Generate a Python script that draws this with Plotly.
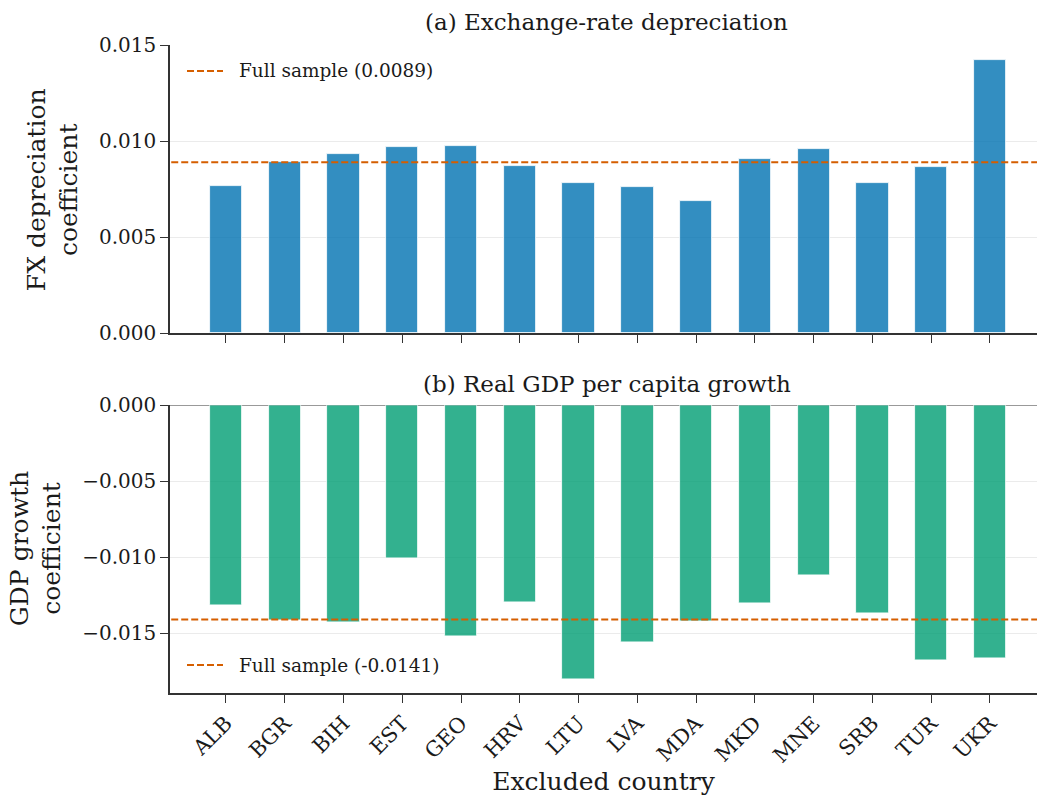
import plotly.graph_objects as go

# Leave-one-out robustness: coefficient when each country is excluded
countries = ["ALB", "BGR", "BIH", "EST", "GEO", "HRV", "LTU",
             "LVA", "MDA", "MKD", "MNE", "SRB", "TUR", "UKR"]
fx_coef = [0.00765, 0.00893, 0.00935, 0.00968, 0.00976, 0.00872, 0.00780,
           0.00761, 0.00688, 0.00908, 0.00957, 0.00780, 0.00864, 0.01420]
gdp_coef = [-0.01314, -0.01413, -0.01428, -0.01009, -0.01518, -0.01294, -0.01803,
            -0.01559, -0.01421, -0.01305, -0.01118, -0.01368, -0.01680, -0.01663]
fx_full = 0.0089
gdp_full = -0.0141

FONT = "DejaVu Serif"
BLUE = "rgba(0,114,178,0.8)"
GREEN = "rgba(0,158,115,0.8)"
ORANGE = "#D55E00"
SPINE = "#333333"
GRID = "#ebebeb"
TEXT = "#1a1a1a"
DASH = "7px,3px"

idx = list(range(len(countries)))
x_lo, x_hi = -0.9525, 13.80

# plot-area geometry in pixels, used to place the legend keys
W, H = 1037, 796
ML, MR, MT, MB = 170, 0, 45, 103
PW, PH = W - ML - MR, H - MT - MB


def px_x(px):
    return (px - ML) / PW


def px_y(px):
    return (H - MB - px) / PH


fig = go.Figure()

fig.add_trace(go.Bar(x=idx, y=fx_coef, width=0.55, marker_color=BLUE,
                     marker_line=dict(color="white", width=0.8),
                     showlegend=False, xaxis="x", yaxis="y"))
fig.add_trace(go.Scatter(x=[x_lo - 1, x_hi + 1], y=[fx_full, fx_full], mode="lines",
                         line=dict(color=ORANGE, width=2, dash=DASH),
                         showlegend=False, xaxis="x", yaxis="y"))

fig.add_trace(go.Bar(x=idx, y=gdp_coef, width=0.55, marker_color=GREEN,
                     marker_line=dict(color="white", width=0.8),
                     showlegend=False, xaxis="x2", yaxis="y2"))
fig.add_trace(go.Scatter(x=[x_lo - 1, x_hi + 1], y=[gdp_full, gdp_full], mode="lines",
                         line=dict(color=ORANGE, width=2, dash=DASH),
                         showlegend=False, xaxis="x2", yaxis="y2"))

axis_common = dict(showline=True, linecolor=SPINE, linewidth=1.5,
                   ticks="outside", tickcolor=SPINE, ticklen=8, tickwidth=1.2,
                   tickfont=dict(family=FONT, size=20, color=TEXT))

# legend keys: dashed sample line + label for each panel
legend_rows = [(71, f"Full sample ({fx_full:.4f})"),
               (665, f"Full sample ({gdp_full:.4f})")]
shapes, legend_notes = [], []
for ypx, label in legend_rows:
    shapes.append(dict(type="line", xref="paper", yref="paper",
                       x0=px_x(187), x1=px_x(223), y0=px_y(ypx), y1=px_y(ypx),
                       line=dict(color=ORANGE, width=2, dash=DASH)))
    legend_notes.append(dict(text=label, xref="paper", yref="paper",
                             x=px_x(237), y=px_y(ypx), xanchor="left", yanchor="middle",
                             showarrow=False,
                             font=dict(family=FONT, size=18.5, color=TEXT)))

fig.update_layout(
    width=W, height=H,
    margin=dict(l=ML, r=MR, t=MT, b=MB),
    plot_bgcolor="white", paper_bgcolor="white",
    font=dict(family=FONT, color=TEXT),
    bargap=0,
    showlegend=False,
    xaxis=dict(domain=[0, 1], range=[x_lo, x_hi], anchor="y",
               tickvals=idx, ticktext=countries, showticklabels=False,
               showgrid=False, zeroline=False, **axis_common),
    yaxis=dict(domain=[0.555, 1], range=[0, 0.015], anchor="x",
               tickvals=[0, 0.005, 0.010, 0.015], tickformat=".3f",
               showgrid=True, gridcolor=GRID, gridwidth=1, zeroline=False,
               **axis_common),
    xaxis2=dict(domain=[0, 1], range=[x_lo, x_hi], anchor="y2",
                tickvals=idx, ticktext=countries, tickangle=-45,
                showgrid=False, zeroline=False,
                title=dict(text="Excluded country", font=dict(family=FONT, size=25),
                           standoff=6),
                **{**axis_common, "tickfont": dict(family=FONT, size=21, color=TEXT)}),
    yaxis2=dict(domain=[0, 0.444], range=[-0.01893, 0], anchor="x2",
                tickvals=[0, -0.005, -0.010, -0.015], tickformat=".3f",
                showgrid=True, gridcolor=GRID, gridwidth=1,
                zeroline=True, zerolinecolor="#999999", zerolinewidth=1.2,
                **axis_common),
    shapes=shapes,
    annotations=[
        dict(text="(a) Exchange-rate depreciation", xref="paper", yref="paper",
             x=0.5035, y=1.0, xanchor="center", yanchor="bottom", yshift=8,
             showarrow=False, font=dict(family=FONT, size=23, color=TEXT)),
        dict(text="(b) Real GDP per capita growth", xref="paper", yref="paper",
             x=0.5035, y=0.444, xanchor="center", yanchor="bottom", yshift=6,
             showarrow=False, font=dict(family=FONT, size=23, color=TEXT)),
        dict(text="FX depreciation<br>coefficient", xref="paper", yref="paper",
             x=px_x(53), y=(0.555 + 1) / 2, xanchor="center", yanchor="middle",
             textangle=-90, showarrow=False,
             font=dict(family=FONT, size=25, color=TEXT)),
        dict(text="GDP growth<br>coefficient", xref="paper", yref="paper",
             x=px_x(36), y=0.444 / 2, xanchor="center", yanchor="middle",
             textangle=-90, showarrow=False,
             font=dict(family=FONT, size=25, color=TEXT)),
    ] + legend_notes,
)

fig.write_html("out.html")
